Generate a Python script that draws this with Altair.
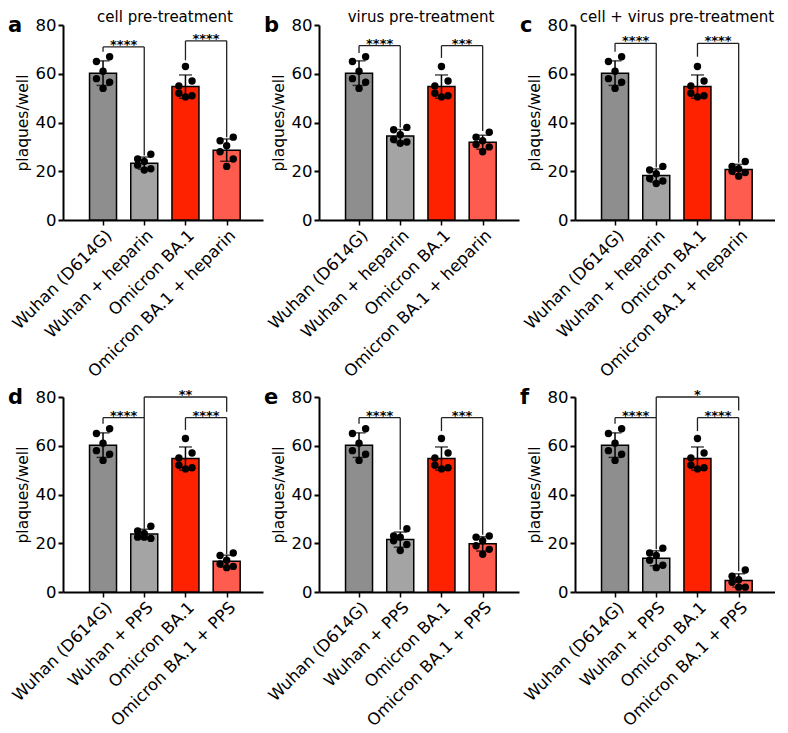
import json
import altair as alt
import pandas as pd

# ---------------- data ----------------
CATS_HEP = ["Wuhan (D614G)", "Wuhan + heparin", "Omicron BA.1", "Omicron BA.1 + heparin"]
CATS_PPS = ["Wuhan (D614G)", "Wuhan + PPS", "Omicron BA.1", "Omicron BA.1 + PPS"]
LETTERS = ["a", "b", "c", "d", "e", "f"]
TITLES = ["cell pre-treatment", "virus pre-treatment", "cell + virus pre-treatment", "", "", ""]
Y_TICKS = [0, 20, 40, 60, 80]

# control groups (same in every panel)
WUHAN = [67, 65, 61, 58, 56.5, 54]
OMICRON = [57, 55, 63, 52, 51, 50.5]

# treated groups, one list per panel (a..f)
WUHAN_TREATED = [
    [27, 25, 24, 22.5, 21, 20.5],      # a heparin
    [38, 37, 35, 33, 32, 31.5],        # b heparin
    [22, 20.5, 19, 17, 16, 15],        # c heparin
    [27, 25, 24, 22.5, 22, 22.5],      # d PPS
    [26, 23, 22.5, 21, 19.5, 17],      # e PPS
    [18, 16, 15, 13, 11, 10],          # f PPS
]
OMICRON_TREATED = [
    [34, 32.5, 30.5, 28, 25, 22],
    [36, 34, 32.5, 31, 30, 28],
    [24, 22, 21, 20, 19.5, 18],
    [16, 15, 13, 11.5, 10.5, 10],
    [23, 22.5, 21, 19, 17.5, 15.5],
    [9, 6.5, 5, 4, 2, 2],
]

# significance brackets: panel, from bar, to bar, bracket level, left leg end, right leg end, label
BR_PANEL = [0, 0, 1, 1, 2, 2, 3, 3, 3, 4, 4, 5, 5, 5]
BR_FROM = [0, 2, 0, 2, 0, 2, 0, 2, 1, 0, 2, 0, 2, 1]
BR_TO = [1, 3, 1, 3, 1, 3, 1, 3, 3, 1, 3, 1, 3, 3]
BR_Y = [71, 73.5, 71.5, 71.5, 72.5, 72.5, 71.5, 71.5, 80, 71.5, 71.5, 71.5, 71.5, 80]
BR_YL = [69, 65.5, 68.5, 66.5, 69, 67, 69, 66.5, 71.5, 69, 66, 69, 66, 71.5]
BR_YR = [26.5, 34, 38, 36.5, 21.5, 23.5, 26, 15.5, 74, 25.5, 23.5, 17.5, 8.5, 74.5]
BR_LABEL = ["****", "****", "****", "***", "****", "****", "****", "****", "**",
            "****", "***", "****", "****", "*"]

# ---------------- style ----------------
GROUP_KEYS = ["w", "wt", "o", "ot"]
COLORS = ["#8e8e8e", "#a4a4a4", "#ff2200", "#ff5c50"]
JITTER = [0.16, -0.16, 0.0, -0.16, 0.16, 0.0]
FONT = "DejaVu Sans"

rows = []
for p in range(6):
    groups = [WUHAN, WUHAN_TREATED[p], OMICRON, OMICRON_TREATED[p]]
    for g, vals in enumerate(groups):
        for k, v in enumerate(vals):
            rows.append({"panel": p, "pos": g, "grp": GROUP_KEYS[g], "v": v,
                         "xj": g + JITTER[k]})
dots = pd.DataFrame(rows)

brackets = pd.DataFrame({
    "panel": BR_PANEL, "x1": BR_FROM, "x2": BR_TO, "y": BR_Y,
    "yl": BR_YL, "yr": BR_YR, "label": BR_LABEL,
})


def xenc(field, cats):
    expr = json.dumps(cats) + "[datum.value]"
    return alt.X(
        f"{field}:Q",
        scale=alt.Scale(domain=[-0.85, 3.76], nice=False, zero=False),
        axis=alt.Axis(values=[0, 1, 2, 3], labelExpr=expr, labelAngle=-45,
                      labelFontSize=16.5, labelFont=FONT, labelColor="black",
                      labelOverlap=False, labelFlush=False, labelPadding=2,
                      labelLimit=400,
                      title=None, grid=False, domainWidth=2, domainColor="black",
                      tickColor="black", tickWidth=1.5, tickSize=5),
    )


def yenc(field):
    return alt.Y(
        f"{field}:Q",
        scale=alt.Scale(domain=[0, 80], nice=False),
        axis=alt.Axis(values=Y_TICKS, title="plaques/well", titleFontSize=15.5,
                      titleFont=FONT, titleFontWeight="normal", titleColor="black",
                      titlePadding=5, labelFontSize=16.5, labelFont=FONT,
                      labelColor="black", labelPadding=2, grid=False,
                      domainWidth=2, domainColor="black", tickColor="black",
                      tickWidth=2, tickSize=5),
    )


def panel(p):
    cats = CATS_HEP if p < 3 else CATS_PPS
    sub = dots[dots.panel == p]
    base = alt.Chart(sub)
    agg = base.transform_aggregate(
        m="mean(v)", sd="stdev(v)", groupby=["pos", "grp"]
    ).transform_calculate(lo="datum.m - datum.sd", hi="datum.m + datum.sd")

    bars = agg.mark_bar(size=27, stroke="black", strokeWidth=1.5, orient="vertical").encode(
        x=xenc("pos", cats), y=yenc("m"),
        color=alt.Color("grp:N", scale=alt.Scale(domain=GROUP_KEYS, range=COLORS), legend=None),
    )
    errs = agg.mark_rule(strokeWidth=1.5, color="black").encode(
        x=xenc("pos", cats), y=yenc("lo"), y2="hi:Q")
    cap_hi = agg.mark_tick(orient="horizontal", size=13, thickness=1.5, color="black").encode(
        x=xenc("pos", cats), y=yenc("hi"))
    cap_lo = agg.mark_tick(orient="horizontal", size=13, thickness=1.5, color="black").encode(
        x=xenc("pos", cats), y=yenc("lo"))
    pts = base.mark_circle(size=55, color="black", opacity=1).encode(
        x=xenc("xj", cats), y=yenc("v"))

    bk = alt.Chart(brackets[brackets.panel == p])
    hline = bk.mark_rule(strokeWidth=1.3, color="#222").encode(
        x=xenc("x1", cats), x2="x2:Q", y=yenc("y"))
    lleg = bk.mark_rule(strokeWidth=1.3, color="#222").encode(
        x=xenc("x1", cats), y=yenc("y"), y2="yl:Q")
    rleg = bk.mark_rule(strokeWidth=1.3, color="#222").encode(
        x=xenc("x2", cats), y=yenc("y"), y2="yr:Q")
    stars = bk.transform_calculate(xm="(datum.x1 + datum.x2) / 2").mark_text(
        fontSize=13, fontWeight="bold", baseline="alphabetic", dy=2, font=FONT, color="black"
    ).encode(x=xenc("xm", cats), y=yenc("y"), text="label:N")

    ann = alt.Chart(pd.DataFrame({"t": [LETTERS[p]], "d": [TITLES[p]]}))
    letter = ann.mark_text(
        fontSize=21, fontWeight="bold", align="left", baseline="alphabetic",
        font=FONT, color="black"
    ).encode(x=alt.value(-55), y=alt.value(7), text="t:N")
    layers = [bars, errs, cap_hi, cap_lo, pts, hline, lleg, rleg, stars, letter]
    if TITLES[p]:
        desc = ann.mark_text(
            fontSize=15, align="center", baseline="alphabetic", font=FONT, color="black"
        ).encode(x=alt.value(102), y=alt.value(-3), text="d:N")
        layers.append(desc)
    return alt.layer(*layers).properties(width=200, height=195)


chart = alt.concat(
    *[panel(p) for p in range(6)], columns=3,
    spacing={"row": 177, "column": 56}, bounds="flush",
).properties(
    padding={"left": 0, "top": 2, "right": 0, "bottom": 0}
).configure_view(stroke=None).configure_text(font=FONT)

chart.save("out.html", embed_options={"renderer": "svg", "actions": False})
